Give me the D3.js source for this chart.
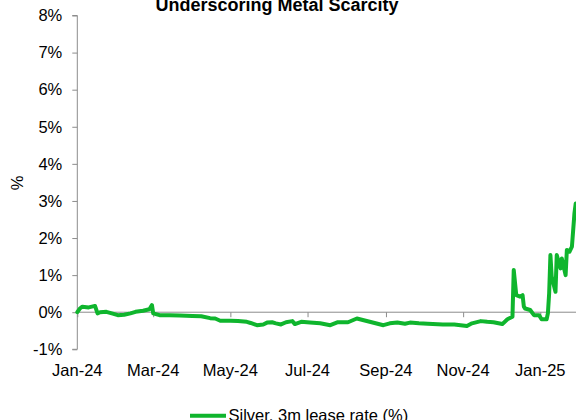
<!DOCTYPE html>
<html>
<head>
<meta charset="utf-8">
<script src="https://cdn.jsdelivr.net/npm/d3@7"></script>
<style>
  html, body { margin: 0; padding: 0; background: #fff; }
  svg { display: block; font-family: "Liberation Sans", Arial, sans-serif; }
</style>
</head>
<body>
<svg id="chart" width="576" height="420"></svg>
<script>
// Silver 3-month lease rate, % (date, value)
const dates = [
  "2024-01-01","2024-01-03","2024-01-05","2024-01-10","2024-01-15","2024-01-17","2024-01-19","2024-01-24",
  "2024-01-29","2024-02-02","2024-02-07","2024-02-12","2024-02-16","2024-02-22","2024-02-27","2024-02-29",
  "2024-03-01","2024-03-06","2024-03-14","2024-03-22","2024-04-01","2024-04-08","2024-04-15","2024-04-19",
  "2024-04-23","2024-05-01","2024-05-07","2024-05-14","2024-05-17","2024-05-22","2024-05-27","2024-05-30",
  "2024-06-03","2024-06-06","2024-06-10","2024-06-14","2024-06-19","2024-06-21","2024-06-26","2024-07-03",
  "2024-07-11","2024-07-19","2024-07-25","2024-08-02","2024-08-09","2024-08-16","2024-08-23","2024-08-30",
  "2024-09-04","2024-09-10","2024-09-16","2024-09-20","2024-09-27","2024-10-04","2024-10-16","2024-10-25",
  "2024-11-04","2024-11-08","2024-11-15","2024-11-20","2024-11-25","2024-12-02","2024-12-06","2024-12-10",
  "2024-12-11","2024-12-13","2024-12-16","2024-12-18","2024-12-19","2024-12-20","2024-12-24","2024-12-27",
  "2024-12-31","2025-01-02","2025-01-06","2025-01-07","2025-01-08","2025-01-09","2025-01-10","2025-01-13",
  "2025-01-14","2025-01-17","2025-01-18","2025-01-21","2025-01-22","2025-01-24","2025-01-26","2025-01-28",
  "2025-01-29"
];
const leaseRate = [
  0.00, 0.10, 0.15, 0.13, 0.17, -0.03, 0.00, 0.01,
  -0.04, -0.08, -0.07, -0.03, 0.01, 0.04, 0.08, 0.19,
  -0.03, -0.08, -0.08, -0.09, -0.10, -0.11, -0.16, -0.17,
  -0.23, -0.23, -0.24, -0.26, -0.29, -0.35, -0.33, -0.28,
  -0.27, -0.30, -0.33, -0.27, -0.24, -0.32, -0.26, -0.28,
  -0.30, -0.35, -0.27, -0.27, -0.17, -0.23, -0.29, -0.35,
  -0.30, -0.28, -0.31, -0.28, -0.30, -0.31, -0.33, -0.33,
  -0.37, -0.30, -0.24, -0.26, -0.27, -0.32, -0.19, -0.12,
  1.14, 0.46, 0.42, 0.46, 0.15, 0.10, 0.06, -0.08,
  -0.08, -0.19, -0.19, -0.03, 0.51, 1.54, 0.96, 0.55,
  1.54, 1.18, 1.45, 1.00, 1.68, 1.63, 1.77, 2.67,
  2.93
];
const xTickLabels = ["Jan-24","Mar-24","May-24","Jul-24","Sep-24","Nov-24","Jan-25"];
const yTickValues = [-1, 0, 1, 2, 3, 4, 5, 6, 7, 8];
const titleText = "Underscoring Metal Scarcity";
const seriesName = "Silver, 3m lease rate (%)";

const parse = d3.timeParse("%Y-%m-%d");
const data = dates.map((d, i) => ({ date: parse(d), value: leaseRate[i] }));

const svg = d3.select("#chart");
const lineColor = "#0fb52d";
const axisColor = "#8c8c8c";
const fontSize = 16.5;

// Time axis: constant pixels per day, carried past the last month to the right edge
const x0 = 77.3, xJan25 = 540.3;
const pxPerDay = (xJan25 - x0) / 366;
const x = d3.scaleTime()
  .domain([parse("2024-01-01"), parse("2025-02-01")])
  .range([x0, xJan25 + 31 * pxPerDay]);

const y = d3.scaleLinear().domain([-1, 8]).range([349.3, 15.5]);

const parseTick = d3.timeParse("%b-%y");
const xTicks = xTickLabels.map(t => parseTick(t));

// Y axis
const yAxis = d3.axisLeft(y)
  .tickValues(yTickValues)
  .tickSize(5)
  .tickPadding(10)
  .tickFormat(d => d + "%");
const gy = svg.append("g").attr("transform", `translate(${x0},0)`).call(yAxis);
gy.select(".domain").attr("stroke", axisColor).attr("d", `M-5,${y(8)}H0V${y(-1)}H-5`);
gy.selectAll(".tick line").attr("stroke", axisColor);
gy.selectAll(".tick text")
  .attr("fill", "#000")
  .style("font-size", fontSize + "px")
  .style("font-family", "'Liberation Sans', Arial, sans-serif");

// X axis drawn on the zero line, tick marks pointing down
const xAxis = d3.axisBottom(x)
  .tickValues(xTicks)
  .tickSize(5)
  .tickFormat("");
const gx = svg.append("g").attr("transform", `translate(0,${y(0)})`).call(xAxis);
gx.select(".domain").attr("stroke", axisColor).attr("d", `M${x0},0H576`);
gx.selectAll(".tick line").attr("stroke", axisColor);

// Month labels below the plot
svg.append("g")
  .selectAll("text")
  .data(xTicks)
  .join("text")
  .attr("x", d => x(d))
  .attr("y", 375.5)
  .attr("text-anchor", "middle")
  .style("font-size", fontSize + "px")
  .text((d, i) => xTickLabels[i]);

// Series line
const line = d3.line()
  .x(d => x(d.date))
  .y(d => y(d.value));
svg.append("path")
  .datum(data)
  .attr("fill", "none")
  .attr("stroke", lineColor)
  .attr("stroke-width", 4)
  .attr("stroke-linejoin", "round")
  .attr("stroke-linecap", "round")
  .attr("d", line);

// Y axis title
svg.append("text")
  .attr("transform", "translate(23,183) rotate(-90)")
  .attr("text-anchor", "middle")
  .style("font-size", fontSize + "px")
  .text("%");

// Chart title
svg.append("text")
  .attr("x", 277)
  .attr("y", 10.5)
  .attr("text-anchor", "middle")
  .style("font-size", "18px")
  .style("font-weight", "bold")
  .text(titleText);

// Legend
svg.append("line")
  .attr("x1", 190).attr("x2", 226)
  .attr("y1", 415.7).attr("y2", 415.7)
  .attr("stroke", lineColor)
  .attr("stroke-width", 4);
svg.append("text")
  .attr("x", 228.5)
  .attr("y", 421)
  .style("font-size", fontSize + "px")
  .text(seriesName);
</script>
</body>
</html>
